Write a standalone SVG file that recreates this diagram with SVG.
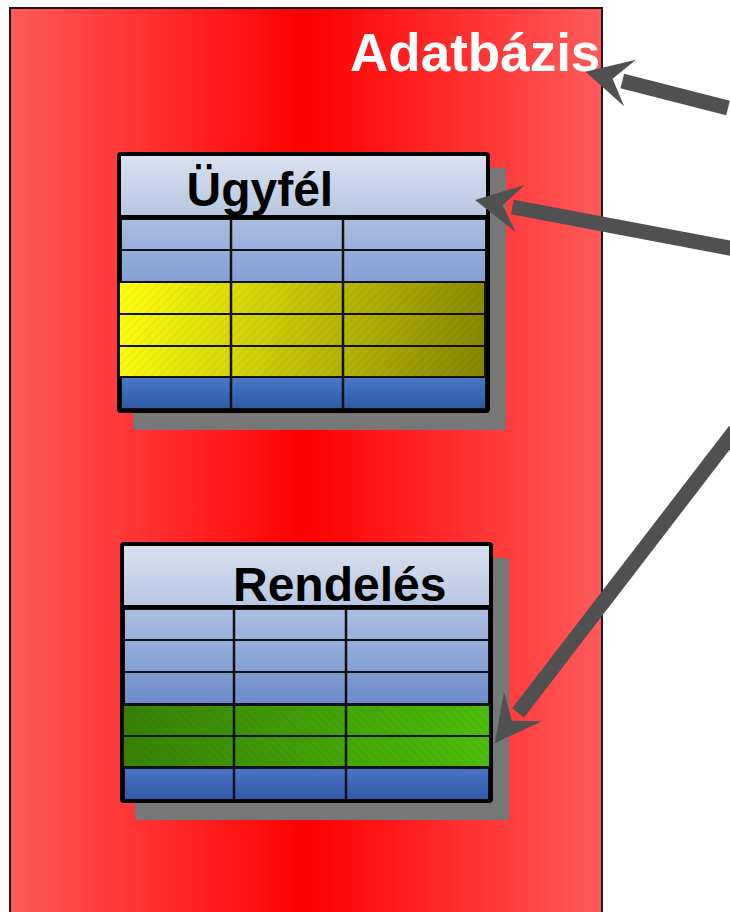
<svg xmlns="http://www.w3.org/2000/svg" width="730" height="912" viewBox="0 0 730 912">
<style>
.title{font-family:"Liberation Sans",Arial,sans-serif;font-weight:bold;fill:#000}
.dbt{font-family:"Liberation Sans",Arial,sans-serif;font-weight:bold;fill:#fff}
.shadow{fill:#777}
.row{stroke:#111;stroke-width:2}
.col{stroke:#111;stroke-width:2.5}
.frame{fill:none;stroke:#000;stroke-width:4}
.sep{stroke:#000;stroke-width:4}
.arrow{stroke:#505050;stroke-width:15;fill:none;marker-end:url(#head)}
</style>
<defs>
<linearGradient id="red" x1="0" y1="0" x2="1" y2="0">
<stop offset="0" stop-color="#ff5a5a"/><stop offset="0.5" stop-color="#ff0000"/><stop offset="1" stop-color="#ff5a5a"/>
</linearGradient>
<linearGradient id="hd" x1="0" y1="0" x2="0" y2="1"><stop offset="0" stop-color="#dae2f0"/><stop offset="1" stop-color="#b6c6e3"/></linearGradient>
<linearGradient id="lb1" x1="0" y1="0" x2="0" y2="1"><stop offset="0" stop-color="#acbee1"/><stop offset="1" stop-color="#99afdb"/></linearGradient>
<linearGradient id="lb2" x1="0" y1="0" x2="0" y2="1"><stop offset="0" stop-color="#96add9"/><stop offset="1" stop-color="#84a0d3"/></linearGradient>
<linearGradient id="lb3" x1="0" y1="0" x2="0" y2="1"><stop offset="0" stop-color="#809cd1"/><stop offset="1" stop-color="#6c8cca"/></linearGradient>
<linearGradient id="bl" x1="0" y1="0" x2="0" y2="1"><stop offset="0" stop-color="#4a77c6"/><stop offset="1" stop-color="#2e5aa8"/></linearGradient>
<linearGradient id="yel" gradientUnits="userSpaceOnUse" x1="118" y1="290" x2="485" y2="377"><stop offset="0" stop-color="#ffff10"/><stop offset="1" stop-color="#848400"/></linearGradient>
<linearGradient id="grn" gradientUnits="userSpaceOnUse" x1="123" y1="705" x2="489" y2="767"><stop offset="0" stop-color="#377f03"/><stop offset="1" stop-color="#4dbd0b"/></linearGradient>
<pattern id="hatchY" width="6" height="6" patternUnits="userSpaceOnUse" patternTransform="rotate(45)"><line x1="0" y1="0" x2="0" y2="6" stroke="#000" stroke-opacity="0.07" stroke-width="1.5"/></pattern>
<pattern id="hatchG" width="6" height="6" patternUnits="userSpaceOnUse" patternTransform="rotate(-45)"><line x1="0" y1="0" x2="0" y2="6" stroke="#000" stroke-opacity="0.07" stroke-width="1.5"/></pattern>
<marker id="head" markerUnits="userSpaceOnUse" markerWidth="60" markerHeight="60" viewBox="0 0 60 60" refX="12" refY="25" orient="auto" overflow="visible">
<path d="M50,25 L4,1 L22,25 L4,49 Z" fill="#505050"/>
</marker>
</defs>

<g id="adatbazis">
<rect x="10" y="8" width="592" height="920" fill="url(#red)" stroke="#1a1a1a" stroke-width="2"/>
<text class="dbt" x="350" y="71" font-size="53">Adatbázis</text>
</g>

<g id="ugyfel">
<rect class="shadow" x="133" y="168" width="373" height="262" rx="3"/>
<rect x="119" y="154" width="369" height="63" fill="url(#hd)"/>
<rect class="row" x="121" y="219" width="365" height="31" fill="url(#lb1)"/>
<rect class="row" x="121" y="250" width="365" height="32" fill="url(#lb2)"/>
<rect class="row" x="121" y="377" width="365" height="32" fill="url(#bl)"/>
<line class="col" x1="231" y1="218" x2="231" y2="410"/>
<line class="col" x1="343" y1="218" x2="343" y2="410"/>
<rect class="frame" x="119" y="154" width="369" height="257" rx="2"/>
<line class="sep" x1="119" y1="217" x2="488" y2="217"/>
<g>
<rect class="row" x="119" y="282" width="366" height="32" fill="url(#yel)"/>
<rect class="row" x="119" y="314" width="366" height="32" fill="url(#yel)"/>
<rect class="row" x="119" y="346" width="366" height="31" fill="url(#yel)"/>
<rect x="119" y="282" width="366" height="95" fill="url(#hatchY)"/>
<line class="col" x1="231" y1="282" x2="231" y2="377"/>
<line class="col" x1="343" y1="282" x2="343" y2="377"/>
</g>
<text class="title" x="186.5" y="205.5" font-size="48">Ügyfél</text>
</g>

<g id="rendeles">
<rect class="shadow" x="135" y="558" width="374" height="262" rx="3"/>
<rect x="122" y="544" width="369" height="63" fill="url(#hd)"/>
<rect class="row" x="124" y="609" width="365" height="31" fill="url(#lb1)"/>
<rect class="row" x="124" y="640" width="365" height="32" fill="url(#lb2)"/>
<rect class="row" x="124" y="672" width="365" height="32" fill="url(#lb3)"/>
<rect class="row" x="124" y="768" width="365" height="32" fill="url(#bl)"/>
<line class="col" x1="234" y1="608" x2="234" y2="800"/>
<line class="col" x1="346" y1="608" x2="346" y2="800"/>
<rect class="frame" x="122" y="544" width="369" height="257" rx="2"/>
<line class="sep" x1="122" y1="607" x2="491" y2="607"/>
<g>
<rect class="row" x="123" y="705" width="367" height="31" fill="url(#grn)"/>
<rect class="row" x="123" y="736" width="367" height="31" fill="url(#grn)"/>
<rect x="123" y="705" width="367" height="62" fill="url(#hatchG)"/>
<line class="col" x1="234" y1="705" x2="234" y2="767"/>
<line class="col" x1="346" y1="705" x2="346" y2="767"/>
</g>
<text class="title" x="233" y="601" font-size="48">Rendelés</text>
</g>

<g id="connectors">
<line class="arrow" x1="728" y1="108" x2="622.3" y2="81.1"/>
<line class="arrow" x1="735" y1="249" x2="512.4" y2="207"/>
<line class="arrow" x1="735" y1="430.5" x2="518.1" y2="712.9"/>
</g>
</svg>
